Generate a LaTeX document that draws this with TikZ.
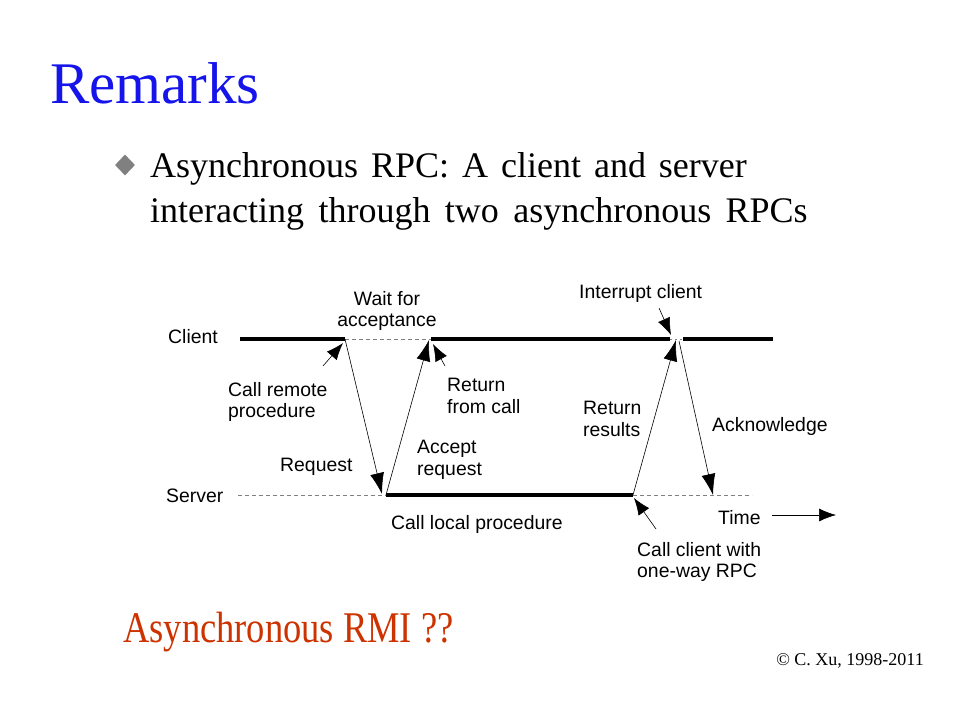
\documentclass[tikz,border=0pt]{standalone}
\usepackage{fontspec}
\setmainfont{Liberation Serif}
\setsansfont{Liberation Sans}
\usetikzlibrary{arrows.meta,shapes.geometric}
\definecolor{titleblue}{RGB}{20,20,235}
\definecolor{rmired}{RGB}{204,51,0}
\definecolor{bulletgray}{RGB}{128,128,128}
\tikzset{
  lbl/.style={font=\sffamily\fontsize{19.4}{21.5}\selectfont, anchor=north west, inner sep=0pt, align=left},
  lifeline/.style={line width=4pt},
  idle/.style={gray, line width=0.7pt, dash pattern=on 4pt off 3pt},
  msg/.style={line width=0.6pt, -{Latex[length=21pt,width=14pt]}},
  pointer/.style={line width=0.6pt, -{Latex[length=17pt,width=13pt]}},
}
\begin{document}
\begin{tikzpicture}[x=1pt,y=-1pt]
    \useasboundingbox (0,0) rectangle (960,720);
    % slide text
    \node[anchor=base west, inner sep=0pt, text=titleblue, font=\fontsize{59}{72}\selectfont] (title) at (50,103) {Remarks};
    \node[diamond, fill=bulletgray, minimum width=20pt, minimum height=21pt, inner sep=0pt] (bullet) at (125,165) {};
    \node[anchor=north west, inner sep=0pt, align=left, font=\fontsize{36}{45}\selectfont] (point) at (150,152)
        {\spaceskip=0.36em\relax Asynchronous RPC: A client and server\\\spaceskip=0.40em\relax interacting through two asynchronous RPCs};
    \node[anchor=base west, inner sep=0pt, text=rmired, font=\fontsize{36.5}{44}\selectfont, yscale=1.2, transform shape] (rmi) at (123,642) {Asynchronous RMI ??};
    \node[anchor=base east, inner sep=0pt, font=\fontsize{18}{22}\selectfont] (copy) at (924,665) {\textcopyright{} C. Xu, 1998-2011};
    % time lines
    \coordinate (c0) at (240,339);
    \coordinate (c1) at (345,339);
    \coordinate (c2) at (431,339);
    \coordinate (c3) at (670,339);
    \coordinate (c4) at (683,339);
    \coordinate (c5) at (773,339);
    \coordinate (s0) at (238,495);
    \coordinate (s1) at (386,495);
    \coordinate (s2) at (633,495);
    \coordinate (s3) at (752,495);
    \draw[lifeline] (c0) -- (c1);
    \draw[idle] (c1) -- (c2);
    \draw[lifeline] (c2) -- (c3);
    \draw[idle, dash pattern=on 2pt off 3pt] (c3) -- (c4);
    \draw[lifeline] (c4) -- (c5);
    \draw[idle] (s0) -- (s1);
    \draw[lifeline] (s1) -- (s2);
    \draw[idle] (s2) -- (s3);
    % messages
    \coordinate (req) at (382,494);
    \coordinate (acc) at (429,340);
    \coordinate (res) at (676,340);
    \coordinate (ack0) at (679,341);
    \coordinate (ack1) at (713,495);
    \draw[msg] (c1) -- (req);
    \draw[msg] (s1) -- (acc);
    \draw[msg] (s2) -- (res);
    \draw[msg] (ack0) -- (ack1);
    % labels
    \node[lbl] (client) at (168,329) {Client};
    \node[lbl] (server) at (166,489) {Server};
    \node[lbl, anchor=north, align=center] (wait) at (387,291) {Wait for\\acceptance};
    \node[lbl] (callremote) at (228,382) {Call remote\\procedure};
    \node[lbl] (retcall) at (447,378) {Return\\from call};
    \node[lbl] (accept) at (417,440) {Accept\\request};
    \node[lbl] (request) at (280,458) {Request};
    \node[lbl] (calllocal) at (391,515) {Call local procedure};
    \node[lbl] (interrupt) at (579,284) {Interrupt client};
    \node[lbl] (retres) at (583,401) {Return\\results};
    \node[lbl] (ack) at (712,417) {Acknowledge};
    \node[lbl] (time) at (718,510) {Time};
    \node[lbl] (oneway) at (637,542) {Call client with\\one-way RPC};
    % pointers
    \coordinate (p1) at (323,366);
    \coordinate (q1) at (343,343);
    \coordinate (p2) at (445,366);
    \coordinate (q2) at (433,344);
    \coordinate (p3) at (659,308);
    \coordinate (q3) at (671,335);
    \coordinate (p4) at (656,529);
    \coordinate (q4) at (634,498);
    \coordinate (t0) at (772,515);
    \coordinate (t1) at (836,515);
    \draw[pointer] (p1) -- (q1);
    \draw[pointer] (p2) -- (q2);
    \draw[pointer] (p3) -- (q3);
    \draw[pointer] (p4) -- (q4);
    \draw[pointer] (t0) -- (t1);
\end{tikzpicture}
\end{document}
